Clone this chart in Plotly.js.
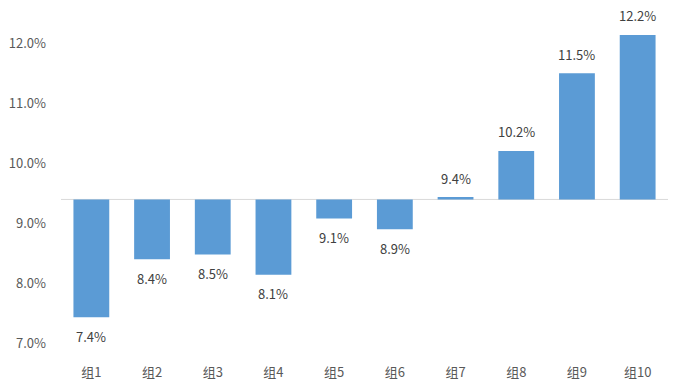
<!DOCTYPE html>
<html>
<head>
<meta charset="utf-8">
<script src="https://cdn.plot.ly/plotly-3.0.1.min.js"></script>
<style>html,body{margin:0;padding:0;background:#fff;}#chart{width:678px;height:387px;}</style>
</head>
<body>
<div id="chart"></div>
<script>
const categories = ["组1","组2","组3","组4","组5","组6","组7","组8","组9","组10"];
const values = [7.43, 8.40, 8.48, 8.14, 9.08, 8.90, 9.44, 10.21, 11.51, 12.15];
const valueLabels = ["7.4%","8.4%","8.5%","8.1%","9.1%","8.9%","9.4%","10.2%","11.5%","12.2%"];
const baseValue = 9.4;
const yTickValues = [7, 8, 9, 10, 11, 12];
const yTickLabels = ["7.0%","8.0%","9.0%","10.0%","11.0%","12.0%"];

const font = "'Noto Sans CJK SC', 'Noto Sans', sans-serif";

const trace = {
  type: "bar",
  x: categories,
  y: values.map(v => v - baseValue),
  base: baseValue,
  marker: {color: "#5B9BD5"},
  hoverinfo: "skip",
  cliponaxis: false
};

const annotations = categories.map((c, i) => ({
  x: c, y: values[i], xref: "x", yref: "y",
  text: valueLabels[i], showarrow: false,
  yshift: values[i] >= baseValue ? 19 : -19,
  font: {family: font, size: 13, color: "#404040"}
}));

const layout = {
  width: 678, height: 387,
  margin: {l: 61, r: 10, t: 14, b: 44},
  paper_bgcolor: "#fff", plot_bgcolor: "#fff",
  showlegend: false,
  bargap: 0.41,
  font: {family: font, color: "#595959", size: 13},
  xaxis: {
    type: "category",
    showline: false, showgrid: false, zeroline: false,
    ticks: "", ticklabelstandoff: 20,
    tickfont: {family: font, size: 13, color: "#595959"}
  },
  yaxis: {
    range: [7, 12.5],
    tickvals: yTickValues, ticktext: yTickLabels,
    showline: false, showgrid: false, zeroline: false,
    ticks: "", ticklabelstandoff: 14,
    tickfont: {family: font, size: 13, color: "#595959"}
  },
  shapes: [{
    type: "line", xref: "paper", yref: "y",
    x0: 0, x1: 1, y0: baseValue, y1: baseValue,
    line: {color: "#D9D9D9", width: 1}, layer: "below"
  }],
  annotations: annotations
};

Plotly.newPlot("chart", [trace], layout, {displayModeBar: false, staticPlot: true});
</script>
</body>
</html>
